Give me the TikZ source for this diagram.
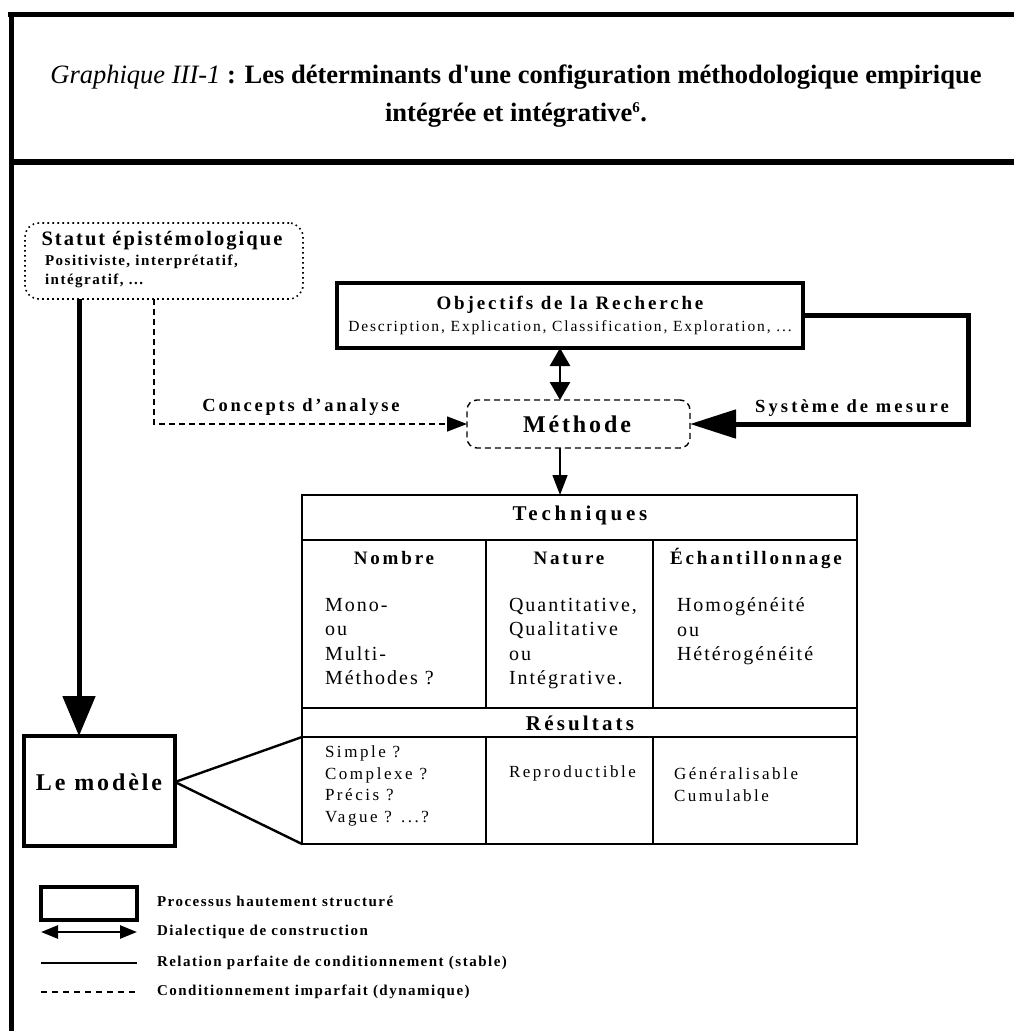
\documentclass[tikz,border=0pt]{standalone}
\usepackage{fontspec}
\setmainfont{Liberation Serif}
\usetikzlibrary{arrows.meta}
\newcommand\fsz[2]{\fontsize{#1}{#2}\selectfont}
\newcommand\lsp[1]{\addfontfeatures{LetterSpace=#1}}

\begin{document}
\begin{tikzpicture}[x=1pt,y=-1pt,
  every node/.style={inner sep=0pt, outer sep=0pt},
  frameline/.style={line width=5.5pt},
  heavybox/.style={draw, line width=4.5pt, anchor=north west},
  cell/.style={draw, line width=2.4pt, anchor=north west},
  dashbox/.style={draw, line width=1.4pt, dash pattern=on 6pt off 4pt, rounded corners=10pt, anchor=north west},
  dotbox/.style={draw, line width=1.6pt, dash pattern=on 1.6pt off 3.4pt, rounded corners=14pt, anchor=north west},
  strong/.style={line width=5pt},
  plain/.style={line width=1.4pt},
  dashlink/.style={line width=1.4pt, dash pattern=on 6pt off 4pt},
  bighead/.style={-{Triangle[length=40pt,width=32pt]}},
  midhead/.style={-{Triangle[length=46pt,width=28pt]}},
  smallhead/.style={-{Triangle[length=20pt,width=15pt]}},
  duohead/.style={{Triangle[length=18pt,width=20pt]}-{Triangle[length=18pt,width=20pt]}},
  head/.style={font=\fsz{19}{23}\bfseries\lsp{15}},
  body/.style={font=\fsz{20}{24.5}\lsp{10}, align=left, anchor=north west},
  resbody/.style={font=\fsz{17}{21.5}\lsp{15}, align=left, anchor=north west},
  legtext/.style={font=\fsz{15}{18}\bfseries\lsp{10}, anchor=west}
]
\useasboundingbox (0,0) rectangle (1014,1031);

% page frame and title band
\draw[frameline] (8,14.5) -- (1014,14.5);
\draw[frameline] (11.5,12) -- (11.5,1031);
\draw[frameline] (11.5,162) -- (1014,162);

\node[font=\fsz{26.5}{32}\addfontfeatures{Ligatures=TeXOff}] (title1) at (516,77)
  {\textit{Graphique III-1} \textbf{: Les déterminants d'une configuration méthodologique empirique}};
\node[font=\fsz{26.5}{32}\bfseries] (title2) at (516,115)
  {intégrée et intégrative\textsuperscript{\fsz{15}{15}6}.};

% epistemological status
\node[dotbox, minimum width=278pt, minimum height=76pt] (stat) at (25,223) {};
\node[font=\fsz{20.5}{24}\bfseries\lsp{10}] (statt) at (162,241) {Statut épistémologique};
\node[font=\fsz{15}{18}\bfseries\lsp{10}, anchor=west] (stat1) at (45,262) {Positiviste, interprétatif,};
\node[font=\fsz{15}{18}\bfseries\lsp{10}, anchor=west] (stat2) at (45,281) {intégratif, ...};

% research objectives
\node[heavybox, minimum width=466pt, minimum height=65pt] (obj) at (337,283) {};
\node[font=\fsz{19}{23}\bfseries\lsp{15}] (objt) at (570,305) {Objectifs de la Recherche};
\node[font=\fsz{15.5}{18}\lsp{12}] (objs) at (570,328) {Description, Explication, Classification, Exploration, ...};

% method
\node[dashbox, minimum width=223pt, minimum height=48pt] (meth) at (467,400) {};
\node[font=\fsz{24}{28}\bfseries\lsp{12}] (metht) at (577,424) {Méthode};

\node[font=\fsz{18.5}{22}\bfseries\lsp{15}] (conc) at (301,407) {Concepts d’analyse};
\node[font=\fsz{18.5}{22}\bfseries\lsp{17}] (mes) at (852,408) {Système de mesure};

% techniques table
\node[cell, minimum width=555pt, minimum height=45pt] (tech) at (302,495) {};
\node[cell, minimum width=184pt, minimum height=168pt] (c1) at (302,540) {};
\node[cell, minimum width=167pt, minimum height=168pt] (c2) at (486,540) {};
\node[cell, minimum width=204pt, minimum height=168pt] (c3) at (653,540) {};
\node[cell, minimum width=555pt, minimum height=29pt] (res) at (302,708) {};
\node[cell, minimum width=184pt, minimum height=107pt] (r1) at (302,737) {};
\node[cell, minimum width=167pt, minimum height=107pt] (r2) at (486,737) {};
\node[cell, minimum width=204pt, minimum height=107pt] (r3) at (653,737) {};

\node[font=\fsz{21}{25}\bfseries\lsp{18}] (techt) at (580,515) {Techniques};
\node[head] (c1h) at (394,558) {Nombre};
\node[head] (c2h) at (569,558) {Nature};
\node[head] (c3h) at (756,558) {Échantillonnage};
\node[body] (c1t) at (325,598) {Mono-\\ou\\Multi-\\Méthodes ?};
\node[body] (c2t) at (509,598) {Quantitative,\\Qualitative\\ou\\Intégrative.};
\node[body] (c3t) at (677,598) {Homogénéité\\ou\\Hétérogénéité};

\node[font=\fsz{21}{25}\bfseries\lsp{15}] (rest) at (580,723) {Résultats};
\node[resbody] (r1t) at (325,746) {Simple ?\\Complexe ?\\Précis ?\\Vague ? ...?};
\node[resbody, anchor=west] (r2t) at (509,773) {Reproductible};
\node[resbody] (r3t) at (674,768) {Généralisable\\Cumulable};

% the model
\node[heavybox, minimum width=151pt, minimum height=110pt] (model) at (24,736) {};
\node[font=\fsz{24}{28}\bfseries\lsp{12}] (modelt) at (99,782) {Le modèle};
\coordinate (apex) at (175,782);

% connectors
\coordinate (ax) at (560,0);
\coordinate (sx) at (79,0);
\coordinate (cx) at (154,0);
\coordinate (rx) at (968,0);

\draw[strong, bighead] (stat.south -| sx) -- (model.north -| sx);
\draw[dashlink, smallhead] (stat.south -| cx) -- (meth.west -| cx) -- (meth.west);
\draw[strong, midhead] (obj.east) -- (obj.east -| rx) -- (meth.east -| rx) -- (meth.east);
\draw[line width=2.6pt, duohead] (obj.south -| ax) -- (meth.north -| ax);
\draw[plain, smallhead] (meth.south -| ax) -- (tech.north -| ax);
\draw[line width=2.4pt] (apex) -- (r1.north west);
\draw[line width=2.4pt] (apex) -- (r1.south west);

% legend
\node[heavybox, minimum width=96pt, minimum height=33pt] (lbox) at (41,887) {};
\coordinate (la1) at (41,932);  \coordinate (lb1) at (137,932);
\coordinate (la2) at (41,963);  \coordinate (lb2) at (137,963);
\coordinate (la3) at (41,992);  \coordinate (lb3) at (137,992);
\draw[line width=2.6pt, {Triangle[length=17pt,width=13pt]}-{Triangle[length=17pt,width=13pt]}] (la1) -- (lb1);
\draw[line width=2.6pt] (la2) -- (lb2);
\draw[line width=1.2pt, dash pattern=on 6pt off 5pt] (la3) -- (lb3);
\node[legtext] (l1) at (157,901) {Processus hautement structuré};
\node[legtext] (l2) at (157,932) {Dialectique de construction};
\node[legtext] (l3) at (157,963) {Relation parfaite de conditionnement (stable)};
\node[legtext] (l4) at (157,992) {Conditionnement imparfait (dynamique)};
\end{tikzpicture}
\end{document}
